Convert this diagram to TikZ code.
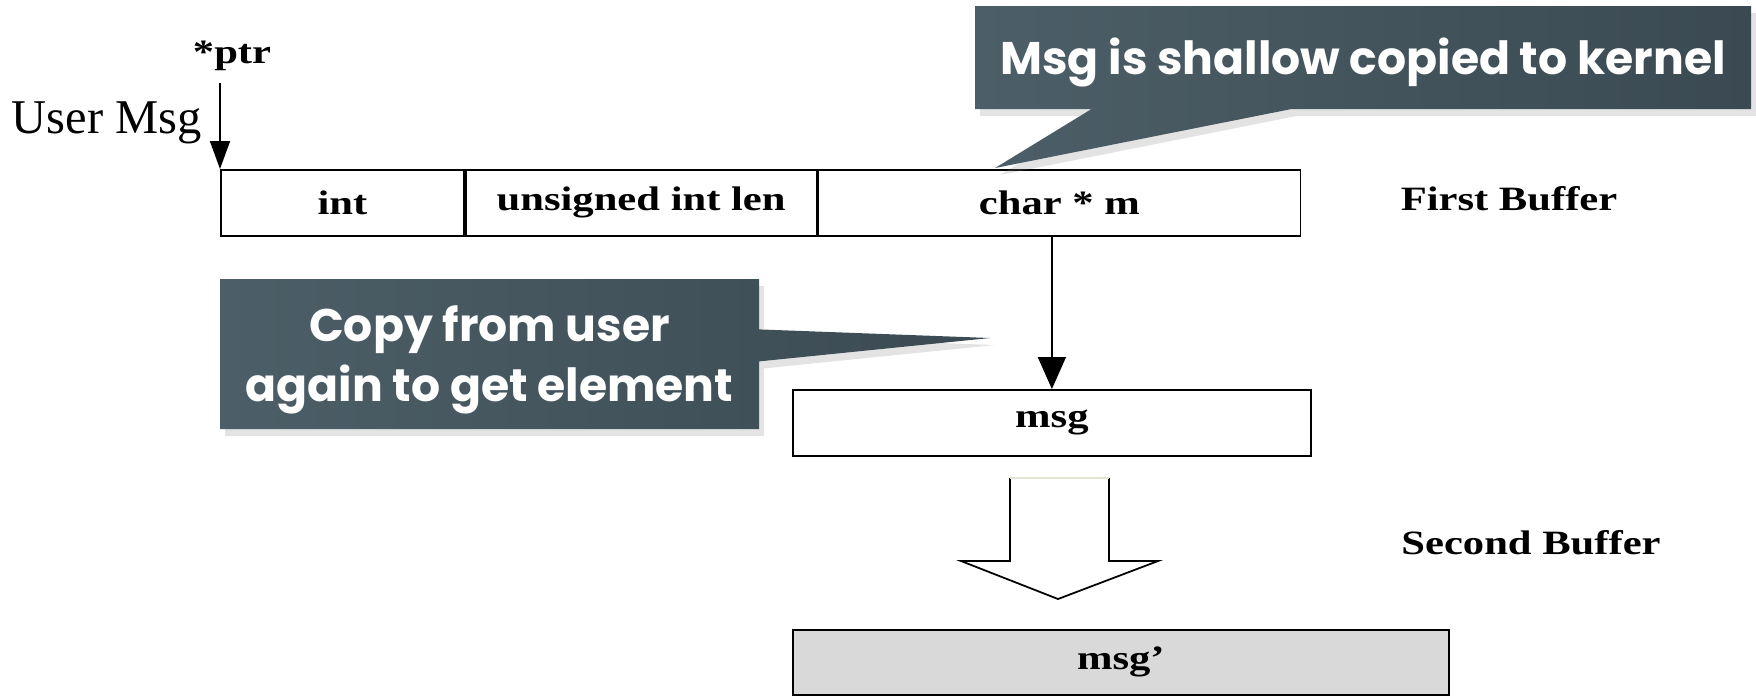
\documentclass[tikz,border=0pt]{standalone}
\usepackage{fontspec}
\setmainfont{Liberation Serif}
\newfontfamily\buffont{Liberation Serif}[FakeStretch=1.25]
\newfontfamily\callfont{Poppins}
\usepackage{tikz}
\usetikzlibrary{positioning,arrows.meta,shapes.callouts,shadows}
\definecolor{slateL}{HTML}{4C5E67}
\definecolor{slateR}{HTML}{3B4A52}
\definecolor{msggray}{HTML}{D9D9D9}
\definecolor{topline}{HTML}{E4E4D2}

\begin{document}
\begin{tikzpicture}[cell/.style={draw, line width=0.5pt, minimum height=0.66cm, inner sep=0pt, font=\buffont\bfseries\fontsize{9.7}{11}\selectfont},
  tag/.style={font=\buffont\bfseries\fontsize{9.7}{11}\selectfont},
  bubble/.style={rectangle callout, inner sep=0pt, left color=slateL, right color=slateR, text=white, align=center,
    drop shadow={shadow xshift=0.5mm, shadow yshift=-0.7mm, opacity=0.22},
    font=\callfont\bfseries\fontsize{13}{17.2}\selectfont},
  node distance=0cm]
  \useasboundingbox (0,0) rectangle (17.56,-6.95);

  \node[cell, minimum width=2.43cm, anchor=north west] (int) at (2.20,-1.69) {int};
  \node[cell, minimum width=3.51cm] (len) [right=of int] {unsigned int len};
  \node[cell, minimum width=4.82cm] (m) [right=of len] {char * m};
  \node[tag] (first) at (15.09,-1.99) {First Buffer};

  \node[tag] (ptr) at (2.32,-0.56) {*ptr};
  \node[font=\fontsize{13.8}{15}\selectfont, anchor=west, inner sep=0pt] (user) at (0.11,-1.23) {User Msg};
  \coordinate (ptrtop) at (2.20,-0.83);
  \draw[line width=0.5pt, -{Triangle[length=0.28cm,width=0.2cm]}] (ptrtop) -- (int.north west);

  \node[cell, minimum width=5.18cm, anchor=north west] (msg) at (7.92,-3.89) {msg};
  \draw[line width=0.5pt, -{Triangle[length=0.32cm,width=0.28cm]}] (msg.north |- m.south) -- (msg.north);

  \draw[line width=0.5pt] (10.10,-4.78) -- (10.10,-5.61) -- (9.61,-5.61) -- (10.58,-5.99) -- (11.58,-5.61) -- (11.09,-5.61) -- (11.09,-4.78);
  \draw[line width=0.8pt, topline] (10.10,-4.78) -- (11.09,-4.78);
  \node[tag] (second) at (15.31,-5.43) {Second Buffer};

  \node[cell, minimum width=6.56cm, minimum height=0.65cm, fill=msggray, anchor=north west] (msg2) at (7.92,-6.29) {msg’};

  \node[bubble, minimum width=7.76cm, minimum height=1.03cm, callout pointer width=2.0cm, callout absolute pointer={(9.95,-1.68)}] (shallow) at (13.63,-0.575) {\rule{0pt}{0.46cm}Msg is shallow copied to kernel};
  \node[bubble, minimum width=5.39cm, minimum height=1.50cm, callout pointer width=0.32cm, callout absolute pointer={(9.90,-3.38)}] (again) at (4.895,-3.54) {\rule{0pt}{0.48cm}Copy from user\\again to get element};
\end{tikzpicture}
\end{document}
